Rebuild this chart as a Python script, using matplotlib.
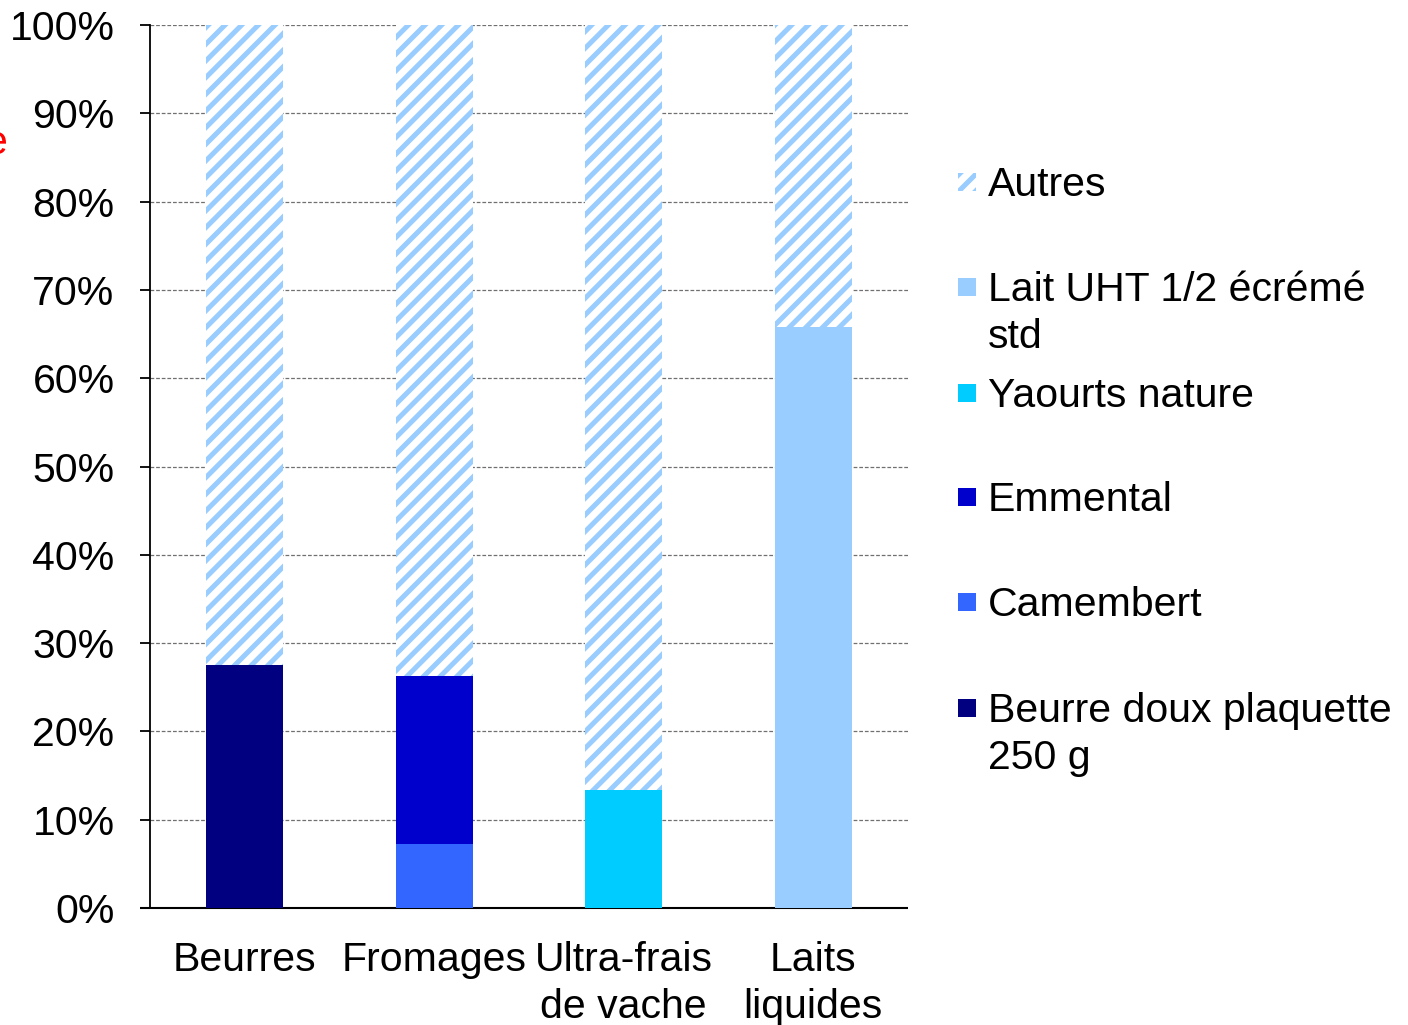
import matplotlib
matplotlib.use("Agg")
import matplotlib.pyplot as plt
from matplotlib.patches import Rectangle
import numpy as np

plt.rcParams['font.family'] = ['Liberation Sans', 'DejaVu Sans']
plt.rcParams['hatch.linewidth'] = 3.6

categories = ["Beurres", "Fromages", "Ultra-frais\nde vache", "Laits\nliquides"]
# Stack order from bottom
beurre = [27.5, 0, 0, 0]
camembert = [0, 7.2, 0, 0]
emmental = [0, 19.1, 0, 0]
yaourts = [0, 0, 13.4, 0]
lait_uht = [0, 0, 0, 65.8]

series = [
    ("Beurre doux plaquette\n250 g", beurre, "#000080"),
    ("Camembert", camembert, "#3366FF"),
    ("Emmental", emmental, "#0000CC"),
    ("Yaourts nature", yaourts, "#00CCFF"),
    ("Lait UHT 1/2 écrémé\nstd", lait_uht, "#99CCFF"),
]
yticks = [0, 10, 20, 30, 40, 50, 60, 70, 80, 90, 100]
ytick_labels = ["0%", "10%", "20%", "30%", "40%", "50%", "60%", "70%", "80%", "90%", "100%"]

FS = 29.5
W, H = 1408, 1025
fig = plt.figure(figsize=(W / 100, H / 100), dpi=100)
ax = fig.add_axes([150 / W, 1 - 908 / H, (908 - 150) / W, (908 - 25) / H])

x = np.arange(len(categories))
width = 0.405
bottom = np.zeros(len(categories))
for name, vals, col in series:
    v = np.array(vals, dtype=float)
    ax.bar(x, v, width, bottom=bottom, color=col, edgecolor=col, linewidth=0, zorder=3)
    bottom += v
autres = 100 - bottom
ax.bar(x, autres, width, bottom=bottom, facecolor="white", edgecolor="#99CCFF",
       hatch="//", linewidth=0, zorder=3)

ax.set_xlim(-0.5, 3.5)
ax.set_ylim(0, 100)
ax.set_yticks(yticks)
ax.set_yticklabels(ytick_labels, fontsize=FS)
ax.set_xticks(x)
ax.set_xticklabels(categories, fontsize=FS, linespacing=1.3)
ax.tick_params(axis='x', length=0, pad=24)
ax.tick_params(axis='y', length=7.5, width=1.3, pad=18, direction='out')
ax.yaxis.grid(True, linestyle=(0, (3, 1.5)), color="#707070", linewidth=0.9, zorder=0)
ax.set_axisbelow(True)
for s in ["top", "right"]:
    ax.spines[s].set_visible(False)
ax.spines["left"].set_linewidth(1.3)
ax.spines["bottom"].set_linewidth(1.5)
ax.spines["bottom"].set_bounds(-0.5 - 10 / 189.5, 3.5)
ax.spines["bottom"].set_capstyle("butt")

# Legend (manual)
legend_items = [
    ("Autres", None, 182),
    ("Lait UHT 1/2 écrémé\nstd", "#99CCFF", 287),
    ("Yaourts nature", "#00CCFF", 393),
    ("Emmental", "#0000CC", 497),
    ("Camembert", "#3366FF", 602),
    ("Beurre doux plaquette\n250 g", "#000080", 708),
]
for label, col, yc in legend_items:
    y0 = 1 - (yc + 9) / H
    if col is None:
        r = Rectangle((958 / W, y0), 18 / W, 18 / H, transform=fig.transFigure,
                      facecolor="white", edgecolor="#99CCFF", hatch="//", linewidth=0)
    else:
        r = Rectangle((958 / W, y0), 18 / W, 18 / H, transform=fig.transFigure,
                      facecolor=col, edgecolor=col, linewidth=0)
    fig.patches.append(r)
    first_line_top = 1 - (yc - 16) / H
    fig.text(988 / W, first_line_top, label, fontsize=FS, va="top", ha="left",
             linespacing=1.3)

fig.text(7 / W, 1 - 143 / H, "e", color="red", fontsize=FS, ha="right", va="center")

fig.savefig("out.png", dpi=100, facecolor="white")
